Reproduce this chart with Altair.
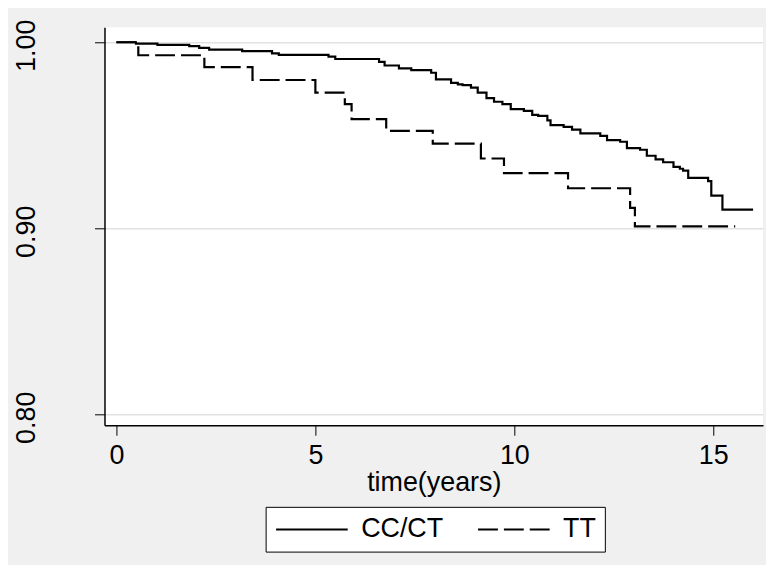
import altair as alt
import pandas as pd

# CC/CT Kaplan-Meier estimate (time in years, survival)
cc_time = [0, 0.49, 1.03, 1.83, 2.08, 2.33, 3.16, 3.91, 4.08, 5.33, 5.5, 6.6, 6.74,
           7.1, 7.41, 7.91, 8.03, 8.41, 8.58, 8.7, 8.91, 9.08, 9.3, 9.49, 9.7, 9.91,
           10.24, 10.45, 10.6, 10.83, 10.91, 11.24, 11.45, 11.66, 12.16, 12.33,
           12.66, 12.83, 13.16, 13.33, 13.55, 13.74, 14.0, 14.16, 14.24, 14.37,
           14.87, 14.95, 15.23, 16.0]
cc_surv = [1.0, 0.9993, 0.9986, 0.9979, 0.997, 0.996, 0.9952, 0.994, 0.9932, 0.9923,
           0.991, 0.9895, 0.9875, 0.986, 0.985, 0.9836, 0.980, 0.9782, 0.9774, 0.977,
           0.9756, 0.9729, 0.970, 0.968, 0.9667, 0.964, 0.9631, 0.961, 0.9604, 0.958,
           0.9554, 0.9545, 0.953, 0.951, 0.9497, 0.9474, 0.9465, 0.9431, 0.9422, 0.939,
           0.937, 0.9355, 0.933, 0.932, 0.931, 0.9271, 0.9253, 0.9176, 0.910, 0.910]

# TT Kaplan-Meier estimate
tt_time = [0, 0.55, 2.21, 3.42, 5.0, 5.74, 5.91, 6.78, 7.95, 9.16, 9.74, 11.35,
           12.91, 13.03, 15.55]
tt_surv = [1.0, 0.993, 0.9866, 0.9797, 0.9729, 0.9667, 0.9587, 0.9524, 0.9455,
           0.9375, 0.9296, 0.9215, 0.911, 0.901, 0.901]

groups = ["CC/CT", "TT"]
x_ticks = [0, 5, 10, 15]
y_ticks = [0.80, 0.90, 1.00]

df = pd.concat([
    pd.DataFrame({"time": cc_time, "surv": cc_surv, "group": groups[0]}),
    pd.DataFrame({"time": tt_time, "surv": tt_surv, "group": groups[1]}),
])

FONT = "Liberation Sans"
FS = 27

chart = alt.Chart(df).mark_line(
    interpolate="step-after", strokeWidth=2.2, color="black"
).encode(
    x=alt.X("time:Q",
            scale=alt.Scale(domain=[-0.3, 16.25], nice=False, zero=False),
            axis=alt.Axis(values=x_ticks, title="time(years)", grid=False,
                          labelPadding=7, titlePadding=2)),
    y=alt.Y("surv:Q",
            scale=alt.Scale(domain=[0.7941, 1.008], nice=False, zero=False),
            axis=alt.Axis(values=y_ticks, format=".2f", title=None, grid=True,
                          labelAngle=-90, labelAlign="center",
                          labelBaseline="alphabetic", labelPadding=60,
                          labelOffset=3)),
    strokeDash=alt.StrokeDash(
        "group:N",
        scale=alt.Scale(domain=groups, range=[[1, 0], [20, 6]]),
        sort=groups,
        legend=alt.Legend(
            title=None, orient="none", legendX=162, legendY=482,
            direction="horizontal", columns=2,
            strokeColor="black", fillColor="white", padding=9,
            symbolType="M-1,0H5", symbolSize=576, symbolStrokeWidth=2,
            symbolStrokeColor="black", symbolFillColor="transparent",
            labelFontSize=FS, labelFont=FONT,
            labelColor="black", labelOffset=60, columnPadding=30,
        ),
    ),
    order=alt.Order("time:Q"),
).properties(
    width=662, height=400,
    autosize=alt.AutoSizeParams(type="none"),
    padding={"left": 97, "top": 18, "right": 3, "bottom": 139},
    background="#f0f0f0",
).configure_view(
    fill="white", stroke=None,
).configure_axis(
    labelFont=FONT, titleFont=FONT, labelFontSize=FS, titleFontSize=FS,
    labelColor="black", titleColor="black", titleFontWeight="normal",
    domainColor="black", domainWidth=1.5, tickColor="black", tickWidth=1,
    tickSize=10, gridColor="#e2e2e2", gridWidth=1.5,
)

chart.save("out.html", embed_options={"renderer": "svg", "actions": False})
